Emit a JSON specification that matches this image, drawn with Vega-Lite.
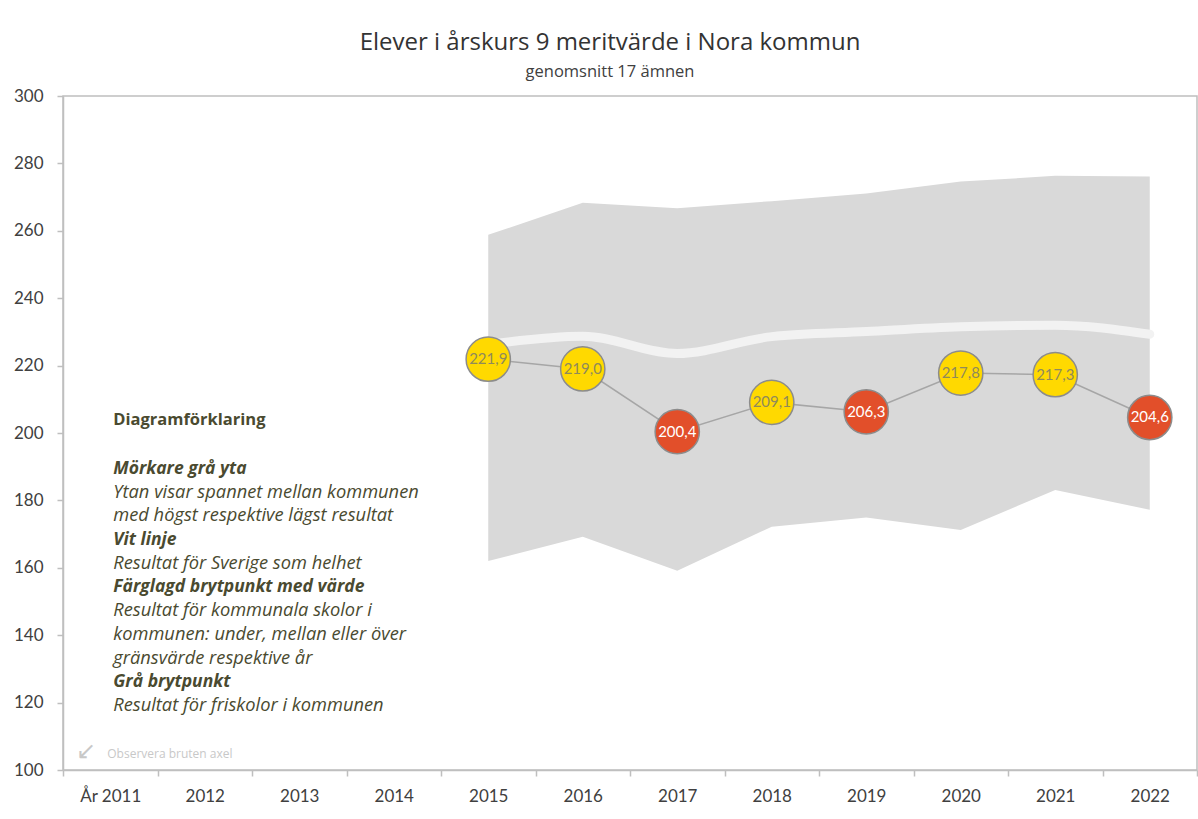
{
  "$schema": "https://vega.github.io/schema/vega-lite/v6.json",
  "autosize": {"type": "none"},
  "padding": {"left": 63, "top": 96, "right": 1, "bottom": 49},
  "width": 1134,
  "height": 674,
  "background": "white",
  "title": {
    "text": "Elever i årskurs 9 meritvärde i Nora kommun",
    "subtitle": "genomsnitt 17 ämnen",
    "anchor": "middle",
    "frame": "group",
    "dx": -20,
    "offset": 7,
    "font": "Open Sans",
    "fontSize": 24,
    "fontWeight": "normal",
    "color": "#333333",
    "subtitleFont": "Open Sans",
    "subtitleFontSize": 16.5,
    "subtitleColor": "#404040",
    "subtitlePadding": 9
  },
  "config": {
    "locale": {"number": {"decimal": ",", "thousands": " ", "grouping": [3], "currency": ["", " kr"]}},
    "view": {"stroke": "#bfbfbf", "strokeWidth": 1.5},
    "axis": {"grid": false, "labelFont": "Lato", "labelColor": "#404040", "domainColor": "#bfbfbf", "tickColor": "#bfbfbf", "domainWidth": 1.5, "tickWidth": 1.5, "title": null}
  },
  "data": {
    "values": [
      {"ar": "2015", "lagst": 162.0, "hogst": 258.8, "sverige": 226.3, "kommunala": 221.9, "niva": "mellan"},
      {"ar": "2016", "lagst": 169.2, "hogst": 268.3, "sverige": 228.7, "kommunala": 219.0, "niva": "mellan"},
      {"ar": "2017", "lagst": 159.1, "hogst": 266.7, "sverige": 223.6, "kommunala": 200.4, "niva": "under"},
      {"ar": "2018", "lagst": 172.2, "hogst": 268.8, "sverige": 228.6, "kommunala": 209.1, "niva": "mellan"},
      {"ar": "2019", "lagst": 174.9, "hogst": 271.1, "sverige": 230.1, "kommunala": 206.3, "niva": "under"},
      {"ar": "2020", "lagst": 171.2, "hogst": 274.6, "sverige": 231.5, "kommunala": 217.8, "niva": "mellan"},
      {"ar": "2021", "lagst": 183.1, "hogst": 276.3, "sverige": 232.0, "kommunala": 217.3, "niva": "mellan"},
      {"ar": "2022", "lagst": 177.2, "hogst": 276.1, "sverige": 229.3, "kommunala": 204.6, "niva": "under"}
    ]
  },
  "encoding": {
    "x": {
      "field": "ar",
      "type": "ordinal",
      "bandPosition": 0.5,
      "scale": {"type": "band", "domain": ["2011","2012","2013","2014","2015","2016","2017","2018","2019","2020","2021","2022"], "paddingInner": 0, "paddingOuter": 0},
      "axis": {"labelAngle": 0, "labelFontSize": 17, "labelPadding": 12, "tickSize": 6, "tickBand": "extent", "labelExpr": "datum.value == '2011' ? 'År 2011' : datum.label"}
    }
  },
  "layer": [
    {
      "mark": {"type": "area", "color": "#d9d9d9", "interpolate": "linear"},
      "encoding": {
        "y": {"field": "hogst", "type": "quantitative", "scale": {"domain": [100, 300], "nice": false, "zero": false}, "axis": {"values": [100,120,140,160,180,200,220,240,260,280,300], "labelFontSize": 17, "labelPadding": 14, "tickSize": 6}},
        "y2": {"field": "lagst"}
      }
    },
    {
      "mark": {"type": "line", "color": "#f2f2f2", "strokeWidth": 9, "interpolate": "monotone", "strokeCap": "round"},
      "encoding": {"y": {"field": "sverige", "type": "quantitative"}}
    },
    {
      "mark": {"type": "line", "color": "#a6a6a6", "strokeWidth": 1.6},
      "encoding": {"y": {"field": "kommunala", "type": "quantitative"}}
    },
    {
      "mark": {"type": "point", "shape": "circle", "filled": true, "size": 1960, "opacity": 1, "stroke": "#8c8c8c", "strokeWidth": 1.5},
      "encoding": {
        "y": {"field": "kommunala", "type": "quantitative"},
        "fill": {"field": "niva", "type": "nominal", "scale": {"domain": ["under", "mellan", "över"], "range": ["#e24f2a", "#ffd900", "#92d050"]}, "legend": null}
      }
    },
    {
      "mark": {"type": "text", "font": "Lato", "fontSize": 15, "align": "center", "baseline": "middle"},
      "encoding": {
        "y": {"field": "kommunala", "type": "quantitative"},
        "text": {"field": "kommunala", "type": "quantitative", "format": ".1f"},
        "color": {"condition": {"test": "datum.niva == 'under'", "value": "#ffffff"}, "value": "#8f8a5c"}
      }
    },
    {
      "data": {"values": [{}]},
      "mark": {"type": "text", "font": "Open Sans", "fontSize": 16.5, "fontWeight": "bold", "color": "#4a4a30", "align": "left", "baseline": "middle", "dx": 3},
      "encoding": {"x": {"datum": "2011", "bandPosition": 0.5}, "y": {"datum": 204.0}, "text": {"value": "Diagramförklaring"}}
    },
    {
      "data": {"values": [{}]},
      "mark": {"type": "text", "font": "Open Sans", "fontSize": 17.5, "fontWeight": "bold", "fontStyle": "italic", "color": "#4a4a30", "align": "left", "baseline": "top", "dx": 3},
      "encoding": {"x": {"datum": "2011", "bandPosition": 0.5}, "y": {"datum": 192.0}, "text": {"value": "Mörkare grå yta"}}
    },
    {
      "data": {"values": [{}]},
      "mark": {"type": "text", "font": "Open Sans", "fontSize": 18.3, "fontStyle": "italic", "color": "#4a4a30", "align": "left", "baseline": "top", "lineHeight": 23.7, "dx": 3},
      "encoding": {"x": {"datum": "2011", "bandPosition": 0.5}, "y": {"datum": 184.97}, "text": {"value": ["Ytan visar spannet mellan kommunen", "med  högst respektive  lägst resultat"]}}
    },
    {
      "data": {"values": [{}]},
      "mark": {"type": "text", "font": "Open Sans", "fontSize": 17.5, "fontWeight": "bold", "fontStyle": "italic", "color": "#4a4a30", "align": "left", "baseline": "top", "dx": 3},
      "encoding": {"x": {"datum": "2011", "bandPosition": 0.5}, "y": {"datum": 170.9}, "text": {"value": "Vit linje"}}
    },
    {
      "data": {"values": [{}]},
      "mark": {"type": "text", "font": "Open Sans", "fontSize": 18.3, "fontStyle": "italic", "color": "#4a4a30", "align": "left", "baseline": "top", "dx": 3},
      "encoding": {"x": {"datum": "2011", "bandPosition": 0.5}, "y": {"datum": 163.87}, "text": {"value": "Resultat för Sverige som helhet"}}
    },
    {
      "data": {"values": [{}]},
      "mark": {"type": "text", "font": "Open Sans", "fontSize": 17.5, "fontWeight": "bold", "fontStyle": "italic", "color": "#4a4a30", "align": "left", "baseline": "top", "dx": 3},
      "encoding": {"x": {"datum": "2011", "bandPosition": 0.5}, "y": {"datum": 156.84}, "text": {"value": "Färglagd brytpunkt med värde"}}
    },
    {
      "data": {"values": [{}]},
      "mark": {"type": "text", "font": "Open Sans", "fontSize": 18.3, "fontStyle": "italic", "color": "#4a4a30", "align": "left", "baseline": "top", "lineHeight": 23.7, "dx": 3},
      "encoding": {"x": {"datum": "2011", "bandPosition": 0.5}, "y": {"datum": 149.8}, "text": {"value": ["Resultat för kommunala skolor i", "kommunen:  under, mellan eller över", "gränsvärde respektive  år"]}}
    },
    {
      "data": {"values": [{}]},
      "mark": {"type": "text", "font": "Open Sans", "fontSize": 17.5, "fontWeight": "bold", "fontStyle": "italic", "color": "#4a4a30", "align": "left", "baseline": "top", "dx": 3},
      "encoding": {"x": {"datum": "2011", "bandPosition": 0.5}, "y": {"datum": 128.7}, "text": {"value": "Grå brytpunkt"}}
    },
    {
      "data": {"values": [{}]},
      "mark": {"type": "text", "font": "Open Sans", "fontSize": 18.3, "fontStyle": "italic", "color": "#4a4a30", "align": "left", "baseline": "top", "dx": 3},
      "encoding": {"x": {"datum": "2011", "bandPosition": 0.5}, "y": {"datum": 121.67}, "text": {"value": "Resultat för friskolor  i kommunen"}}
    },
    {
      "data": {"values": [{}]},
      "mark": {"type": "text", "font": "Open Sans", "fontSize": 12, "color": "#c8c8c8", "align": "left", "baseline": "middle", "dx": -3},
      "encoding": {"x": {"datum": "2011", "bandPosition": 0.5}, "y": {"datum": 104.7}, "text": {"value": "Observera bruten axel"}}
    },
    {
      "data": {"values": [{}]},
      "mark": {"type": "text", "font": "DejaVu Sans", "fontSize": 24, "color": "#c8c8c8", "align": "center", "baseline": "middle", "dx": -24},
      "encoding": {"x": {"datum": "2011", "bandPosition": 0.5}, "y": {"datum": 105.3}, "text": {"value": "↙"}}
    }
  ]
}
